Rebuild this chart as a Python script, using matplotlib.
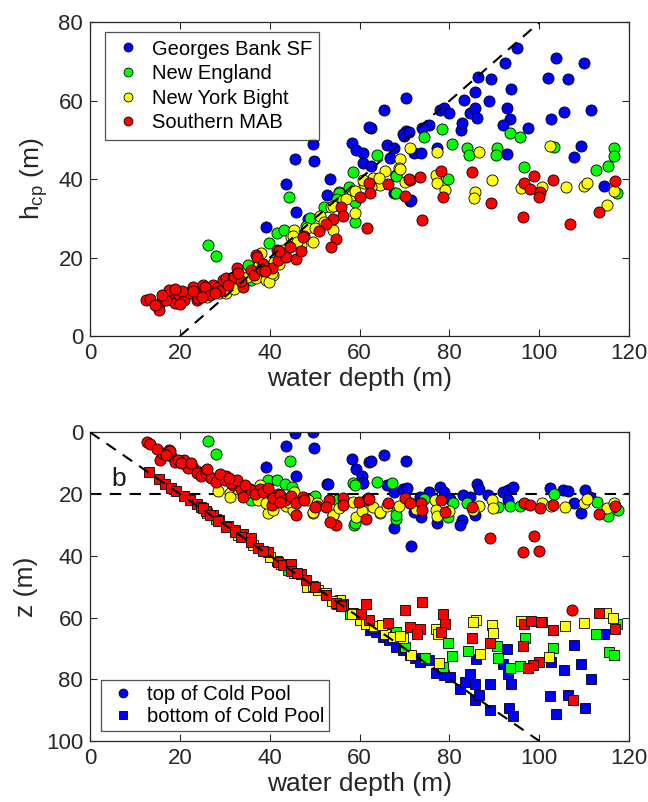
import matplotlib
matplotlib.use('Agg')
import matplotlib.pyplot as plt
from matplotlib.lines import Line2D

plt.rcParams['font.family'] = ['Liberation Sans', 'DejaVu Sans']
plt.rcParams['mathtext.fontset'] = 'custom'
plt.rcParams['mathtext.rm'] = 'Liberation Sans'
plt.rcParams['mathtext.it'] = 'Liberation Sans:italic'

# ---- top panel: cold pool thickness h_cp vs water depth ----
gb_depth = [95.1, 103.7, 109.9, 92.3, 102.0, 106.4, 89.2, 86.4, 93.7, 85.6, 83.2, 88.9, 70.3, 77.8,
            78.8, 79.9, 84.6, 85.7, 86.1, 92.9, 93.4, 102.5, 105.5, 111.4, 65.4, 62.5, 82.5, 82.7,
            70.4, 69.8, 75.4, 73.8, 92.0, 97.5, 66.0, 67.7, 60.8, 66.7, 72.0, 73.6, 77.2, 92.9,
            109.2, 107.7, 114.4, 60.8, 62.6, 71.3, 67.7, 49.6, 45.7, 49.8, 58.2, 59.3, 62.1, 53.3,
            43.7, 45.9, 52.8, 39.1, 48.5, 69.7, 71.0, 71.5]
gb_hcp = [73.5, 70.9, 69.6, 69.6, 65.8, 65.6, 65.6, 66.0, 63.1, 62.3, 60.2, 60.0, 60.6, 57.7,
          58.2, 57.0, 57.0, 58.2, 55.7, 58.2, 55.4, 55.4, 57.2, 57.7, 57.7, 53.2, 52.6, 54.3,
          52.4, 51.0, 53.8, 53.0, 53.9, 53.1, 48.7, 47.9, 46.6, 45.3, 46.6, 46.6, 47.9, 46.4,
          48.5, 45.7, 38.3, 44.1, 43.4, 34.4, 36.5, 49.0, 45.1, 44.7, 49.3, 47.4, 53.4, 40.0,
          38.8, 31.7, 36.1, 27.9, 29.8, 51.5, 52.1, 34.7]

ne_depth = [78.4, 74.4, 80.6, 83.9, 84.3, 90.6, 90.3, 93.4, 95.7, 96.5, 79.7, 68.2, 68.0, 63.9,
            103.2, 116.6, 116.6, 115.3, 112.7, 117.2, 58.5, 57.6, 55.3, 68.2, 58.9, 58.9, 44.3,
            41.6, 43.2, 26.2, 28.1, 39.8, 35.1, 35.9, 55.4, 52.0, 48.0, 49.0, 55.0]
ne_hcp = [52.7, 50.7, 49.0, 47.9, 46.2, 47.9, 46.2, 51.9, 50.8, 43.2, 40.0, 41.1, 36.4, 46.2,
          48.3, 47.9, 45.9, 43.4, 42.3, 36.4, 41.9, 38.1, 36.8, 40.8, 34.3, 29.2, 35.4,
          26.4, 27.0, 23.2, 20.4, 23.8, 18.1, 14.3, 36.4, 33.0, 28.0, 30.0, 35.0]

nyb_depth = [102.3, 71.2, 77.2, 68.9, 68.8, 86.6, 89.4, 76.9, 77.2, 78.9, 85.6, 85.4, 96.0, 100.7,
             105.9, 109.9, 110.5, 116.6, 115.0, 70.0, 63.0, 65.6, 64.5, 69.0, 64.3, 60.9, 62.6,
             58.4, 56.3, 58.9, 53.7, 51.1, 48.3, 45.3, 44.7, 49.6, 47.0, 38.1, 37.6, 36.9, 39.2,
             40.7, 45.2, 30.7, 31.1, 28.8, 39.8, 40.4, 54.1, 54.1, 60.8, 30.3, 34.0, 33.0, 42.0,
             46.0, 26.0, 32.0, 35.0, 41.0, 43.0, 50.0, 52.0, 57.0, 59.0]
nyb_hcp = [48.5, 47.9, 47.0, 45.1, 42.8, 47.0, 39.8, 41.1, 39.0, 37.2, 36.8, 35.1, 37.7, 38.1,
           38.1, 38.3, 39.0, 37.0, 33.4, 39.2, 40.2, 42.2, 38.5, 42.5, 40.2, 39.1, 38.1,
           36.0, 34.7, 31.5, 33.0, 30.6, 27.5, 27.0, 25.3, 24.1, 23.2, 21.1, 18.1, 14.7, 14.3,
           15.6, 25.5, 11.7, 13.4, 10.9, 13.9, 16.0, 27.0, 33.2, 39.8, 10.9, 14.0, 15.5, 18.5,
           24.0, 10.0, 12.0, 15.0, 19.0, 22.0, 27.5, 29.0, 35.0, 37.0]

smab_depth = [78.2, 85.1, 96.6, 98.8, 103.1, 97.9, 100.2, 99.9, 116.8, 113.3, 96.4, 89.2, 78.6, 71.2,
              73.4, 70.0, 66.3, 62.1, 62.2, 60.0, 73.8, 106.8, 61.6, 71.0, 55.9, 56.3, 54.1, 54.8,
              53.7, 52.6, 50.9, 47.6, 44.4, 41.5, 37.0, 12.5, 13.3, 15.3, 15.9, 17.7, 17.6, 18.8,
              19.9, 21.8, 22.9, 24.0, 25.1, 26.2, 27.3, 28.5, 29.6, 30.3, 31.8, 32.6, 34.0, 35.9,
              37.2, 40.4, 41.8, 43.7, 42.1, 21.0, 16.9, 23.7, 22.2, 24.0, 25.5, 32.0, 45.9, 46.9,
              47.4, 33.5, 38.5, 20.5, 26.8, 29.0, 14.5, 16.0, 19.0, 20.0, 23.0, 25.0, 27.8, 30.8,
              33.0, 36.5, 38.0, 39.0]
smab_hcp = [42.2, 41.9, 39.1, 40.8, 39.8, 37.4, 36.8, 35.4, 39.5, 31.6, 30.4, 33.9, 35.5, 39.8,
            40.6, 35.8, 38.7, 39.1, 36.4, 35.5, 29.6, 28.6, 27.6, 40.0, 32.8, 30.6, 29.8, 24.7,
            22.8, 28.7, 26.9, 25.5, 22.8, 21.9, 20.7, 9.2, 9.4, 6.6, 9.0, 10.0, 11.7, 8.5,
            10.5, 10.9, 12.4, 10.9, 13.0, 11.7, 13.0, 12.4, 14.3, 14.7, 15.0, 17.3, 12.6, 16.8,
            20.1, 17.3, 19.4, 20.2, 21.8, 9.2, 9.2, 9.2, 10.9, 9.6, 12.6, 15.1, 19.6, 21.8,
            25.3, 14.0, 18.5, 11.5, 10.5, 11.5, 8.0, 10.5, 12.0, 8.3, 11.5, 10.0, 11.0, 13.0,
            16.0, 15.5, 17.0, 16.5]

# ---- bottom panel: depth of top / bottom of the Cold Pool ----
gb_top_depth = [45.7, 49.6, 43.7, 49.8, 39.2, 45.9, 52.8, 58.3, 59.3, 60.6, 60.6, 62.1, 65.4, 62.6,
                70.3, 66.0, 67.7, 69.7, 70.6, 77.8, 78.7, 75.5, 73.4, 80.1, 83.0, 84.5, 86.1, 86.5,
                85.6, 82.7, 82.3, 77.2, 73.6, 72.1, 67.7, 71.4, 88.6, 91.9, 93.0, 94.2, 93.0, 102.3,
                105.3, 106.4, 110.1, 107.7, 109.2, 111.2, 53.0, 60.8]
gb_top_z = [0.3, 0.0, 4.6, 5.1, 11.3, 14.1, 16.7, 8.7, 11.9, 14.3, 16.5, 9.5, 7.3, 9.3,
            9.3, 17.0, 19.5, 18.4, 17.9, 17.6, 19.2, 19.5, 20.8, 21.7, 20.3, 20.8, 16.7, 18.4,
            26.8, 28.4, 30.0, 29.3, 27.3, 25.7, 31.1, 36.8, 20.3, 19.2, 18.7, 17.6, 21.9, 18.1,
            18.7, 18.9, 18.7, 22.8, 26.2, 21.0, 16.7, 16.3]
gb_bot_depth = [62.2, 65.1, 66.5, 68.2, 69.7, 71.2, 72.3, 73.4, 75.5, 77.1, 78.7, 80.1, 82.4, 83.4,
                85.6, 86.5, 89.1, 63.7, 86.0, 84.5, 85.6, 89.0, 93.6, 92.9, 93.0, 91.9, 93.2, 94.2,
                102.3, 106.4, 103.7, 110.1, 111.5, 109.2, 105.5, 102.6, 107.7, 114.4, 58.0, 60.0]
gb_bot_z = [64.1, 66.3, 67.4, 69.5, 70.6, 72.2, 73.0, 74.4, 73.9, 78.0, 78.5, 79.1, 83.1, 80.9,
            86.6, 85.0, 89.8, 64.7, 73.3, 78.2, 81.4, 81.4, 81.4, 70.1, 78.2, 74.9, 89.2, 92.0,
            85.3, 85.2, 91.3, 89.3, 79.8, 75.2, 77.1, 74.4, 69.0, 65.4, 58.5, 60.5]

ne_top_depth = [26.2, 28.0, 44.4, 39.6, 41.5, 43.3, 58.5, 58.7, 63.9, 68.2, 80.7, 79.7, 74.3, 90.8,
                93.4, 95.7, 103.2, 112.9, 115.3, 117.5, 116.4, 68.2, 83.8, 35.9, 45.0, 58.9, 58.9,
                67.3, 68.2, 50.0, 55.0]
ne_top_z = [2.7, 7.0, 9.2, 15.4, 15.4, 16.7, 16.5, 30.0, 16.0, 28.2, 22.8, 27.5, 21.7, 24.1,
            23.9, 23.9, 20.1, 22.5, 27.1, 25.2, 24.1, 24.6, 23.0, 21.9, 17.6, 29.5, 17.0,
            16.3, 26.8, 20.5, 22.0]
ne_bot_depth = [57.8, 68.2, 70.0, 74.5, 78.6, 79.7, 80.6, 84.1, 90.5, 90.8, 93.4, 95.7, 96.8, 103.1,
                112.7, 115.5, 116.6, 117.3, 55.0, 63.0, 26.0, 28.0, 44.0, 41.5]
ne_bot_z = [58.7, 64.7, 69.5, 73.0, 76.0, 68.2, 72.5, 70.9, 69.3, 73.0, 76.4, 75.7, 66.6, 69.9,
            65.4, 71.2, 72.2, 62.2, 55.5, 63.5, 26.3, 28.2, 44.5, 41.8]

nyb_top_depth = [31.1, 37.8, 39.6, 49.6, 54.1, 59.3, 45.2, 48.5, 64.5, 63.0, 68.8, 76.7, 77.1, 77.3,
                 86.6, 85.3, 89.5, 89.7, 100.7, 102.7, 105.8, 109.9, 110.5, 115.0, 116.6, 71.2,
                 31.1, 34.8, 37.6, 37.4, 40.7, 43.7, 45.5, 39.2, 45.2, 49.6, 54.1, 58.5, 64.5,
                 28.5, 33.0, 44.0, 50.5, 55.5, 60.5, 66.0, 72.5, 80.0]
nyb_top_z = [19.7, 17.0, 26.2, 26.2, 26.8, 27.3, 23.0, 21.9, 26.0, 24.1, 23.9, 21.9, 25.2, 27.1,
             23.9, 25.2, 21.9, 24.6, 23.0, 23.9, 24.3, 23.0, 21.7, 24.6, 22.8, 23.0,
             20.8, 19.7, 19.7, 21.9, 25.2, 23.9, 19.5, 23.0, 25.2, 25.7, 26.8, 22.5, 25.7,
             19.0, 18.5, 22.5, 23.0, 24.5, 25.5, 24.0, 25.0, 25.5]
nyb_bot_depth = [36.3, 40.0, 48.2, 49.6, 50.7, 55.6, 58.5, 60.0, 61.5, 63.0, 64.9, 65.6, 56.3, 60.0,
                 61.5, 63.2, 67.4, 69.7, 71.5, 77.1, 77.5, 77.7, 86.0, 85.3, 86.7, 89.4, 89.7, 95.9,
                 100.5, 105.8, 109.9, 102.2, 114.8, 116.4, 68.9, 64.9, 58.2, 30.5, 33.0, 42.5,
                 45.5, 52.5, 53.8]
nyb_bot_z = [36.5, 40.3, 50.0, 49.8, 51.1, 54.4, 58.5, 59.8, 61.4, 63.0, 62.5, 65.2, 55.5, 60.9,
             62.0, 62.7, 66.3, 66.5, 72.2, 63.6, 65.4, 74.7, 60.7, 61.4, 71.7, 62.3, 65.0, 61.2,
             61.5, 62.7, 61.7, 72.8, 58.4, 60.0, 66.1, 62.3, 58.7, 30.6, 33.2, 42.8,
             45.7, 52.0, 54.6]

smab_top_depth = [12.7, 13.4, 15.5, 17.6, 18.1, 19.0, 21.0, 21.6, 22.9, 23.7, 25.5, 26.6, 28.5, 30.3,
                  31.8, 33.7, 35.5, 34.0, 40.4, 41.8, 40.6, 45.9, 47.4, 50.4, 53.2, 54.7, 53.5, 56.3,
                  61.5, 15.9, 17.7, 19.6, 21.8, 23.7, 24.8, 25.9, 27.0, 28.1, 30.0, 31.4, 32.6, 35.9,
                  37.8, 40.7, 42.2, 43.3, 44.8, 45.9, 42.2, 47.6, 50.0, 52.6, 56.3, 59.9, 61.9, 61.5,
                  62.1, 66.3, 70.0, 71.2, 73.6, 73.8, 78.2, 79.0, 85.1, 96.6, 98.0, 100.1, 103.1,
                  113.3, 116.8, 89.1, 98.8, 96.4, 99.9, 107.3, 14.8, 16.8, 20.3, 22.5, 26.0, 29.0,
                  31.0, 34.5, 36.8, 38.6, 39.5]
smab_top_z = [3.3, 3.7, 8.9, 5.7, 7.8, 9.5, 8.9, 10.9, 11.6, 12.7, 12.7, 14.6, 15.4, 14.3,
              17.0, 18.4, 18.4, 21.0, 20.3, 20.0, 23.5, 26.8, 20.8, 23.9, 21.9, 30.0, 29.0, 21.4,
              21.9, 6.8, 6.2, 8.9, 11.6, 13.2, 14.3, 13.2, 14.9, 16.0, 15.6, 16.5, 15.4, 18.7,
              18.4, 21.4, 20.3, 21.9, 20.6, 22.8, 22.5, 21.9, 24.1, 24.1, 23.5, 22.5, 21.4, 28.2,
              21.7, 22.8, 21.4, 22.8, 22.8, 25.2, 21.9, 25.7, 24.3, 23.0, 23.5, 24.6, 23.5,
              26.6, 23.9, 34.4, 33.6, 38.7, 38.4, 57.6, 5.5, 7.3, 10.0, 9.8, 11.8, 13.5,
              14.8, 17.2, 20.0, 19.5, 18.0]
smab_bot_depth = [13.1, 15.3, 16.6, 18.1, 19.2, 21.0, 22.2, 23.7, 24.8, 25.9, 27.3, 28.8, 30.7, 32.2,
                  34.0, 35.9, 25.1, 26.6, 28.5, 30.3, 32.2, 33.7, 35.9, 37.4, 39.6, 41.8, 42.9, 44.8,
                  44.7, 47.0, 48.0, 52.6, 54.7, 56.2, 61.5, 66.3, 61.4, 73.8, 70.0, 78.6, 79.0, 78.2,
                  71.2, 73.4, 72.8, 62.1, 60.2, 55.9, 85.1, 89.1, 96.4, 96.6, 98.1, 100.3, 103.1,
                  113.3, 116.8, 100.0, 98.6, 97.5, 107.4, 38.5, 46.0, 50.0]
smab_bot_z = [13.0, 15.2, 16.7, 18.1, 18.9, 20.6, 21.9, 23.2, 24.3, 25.4, 26.8, 28.4, 30.4, 31.7,
              33.0, 34.4, 24.6, 26.8, 28.6, 30.6, 32.2, 33.8, 35.5, 37.6, 38.7, 41.9, 43.0, 42.5,
              44.9, 46.0, 47.7, 52.8, 55.3, 56.0, 55.5, 61.7, 55.7, 54.9, 57.6, 58.7, 62.2, 64.7,
              63.0, 63.8, 65.4, 60.9, 58.7, 56.3, 66.6, 68.4, 69.3, 62.2, 61.1, 61.5, 63.9,
              58.4, 63.8, 74.4, 75.5, 76.2, 86.6, 38.3, 45.5, 50.2]

region_names = ['Georges Bank SF', 'New England', 'New York Bight', 'Southern MAB']
region_colors = ['#0000ff', '#00ff00', '#ffff00', '#ff0000']

# reference lines
ref_top_depth = [20, 100]
ref_top_h = [0, 80]
ref_diag_depth = [0, 100]
ref_diag_z = [0, 100]
ref_b_depth = [0, 120]
ref_b_z = [20, 20]

fig = plt.figure(figsize=(6.48, 8.02), dpi=100)
ax1 = fig.add_axes([0.139, 0.581, 0.832, 0.391])
ax2 = fig.add_axes([0.139, 0.076, 0.832, 0.385])

ms_c = 8.0
ms_s = 7.2
edge = dict(markeredgecolor='k', markeredgewidth=0.6, linestyle='none')
dash = (0, (5.5, 4))

top_sets = [(gb_depth, gb_hcp), (ne_depth, ne_hcp), (nyb_depth, nyb_hcp), (smab_depth, smab_hcp)]
for (d, h), c, name in zip(top_sets, region_colors, region_names):
    ax1.plot(d, h, marker='o', markersize=ms_c, markerfacecolor=c, label=name, **edge)
ax1.plot(ref_top_depth, ref_top_h, color='k', linestyle=dash, linewidth=1.5, zorder=3)

bot_sets = [(gb_top_depth, gb_top_z, gb_bot_depth, gb_bot_z),
            (ne_top_depth, ne_top_z, ne_bot_depth, ne_bot_z),
            (nyb_top_depth, nyb_top_z, nyb_bot_depth, nyb_bot_z),
            (smab_top_depth, smab_top_z, smab_bot_depth, smab_bot_z)]
for (td, tz, bd, bz), c in zip(bot_sets, region_colors):
    ax2.plot(td, tz, marker='o', markersize=ms_c, markerfacecolor=c, **edge)
    ax2.plot(bd, bz, marker='s', markersize=ms_s, markerfacecolor=c, **edge)
ax2.plot(ref_diag_depth, ref_diag_z, color='k', linestyle=dash, linewidth=1.5, zorder=3)
ax2.plot(ref_b_depth, ref_b_z, color='k', linestyle=dash, linewidth=1.5, zorder=1)
ax2.text(6.4, 15, 'b', fontsize=19, ha='center', va='center', color='0.1')

for ax in (ax1, ax2):
    ax.set_xlim(0, 120)
    ax.set_xticks(range(0, 121, 20))
    ax.tick_params(direction='in', top=True, right=True, length=5, width=0.8,
                   labelsize=16, colors='0.15', pad=5)
    for s in ax.spines.values():
        s.set_linewidth(0.9)
        s.set_color('0.15')
    ax.set_xlabel('water depth (m)', fontsize=19, color='0.15', labelpad=2)

ax1.set_ylim(0, 80)
ax1.set_yticks(range(0, 81, 20))
ax1.set_ylabel(r'h$_{\mathrm{cp}}$ (m)', fontsize=19, color='0.15', labelpad=6)

ax2.set_ylim(100, 0)
ax2.set_yticks(range(0, 101, 20))
ax2.set_ylabel('z (m)', fontsize=19, color='0.15', labelpad=6)

leg1 = ax1.legend(loc='upper left', bbox_to_anchor=(0.027, 0.968), borderaxespad=0,
                  fontsize=14.5, frameon=True, fancybox=False, edgecolor='0.15',
                  handletextpad=0.4, labelspacing=0.28, borderpad=0.35, handlelength=1.6,
                  markerscale=0.8)
leg1.get_frame().set_linewidth(0.9)

handles2 = [Line2D([], [], marker='o', markersize=ms_c * 0.8, markerfacecolor='#0000ff', **edge),
            Line2D([], [], marker='s', markersize=ms_s * 0.8, markerfacecolor='#0000ff', **edge)]
leg2 = ax2.legend(handles2, ['top of Cold Pool', 'bottom of Cold Pool'], loc='lower left',
                  bbox_to_anchor=(0.021, 0.032), borderaxespad=0, fontsize=14.5, frameon=True,
                  fancybox=False, edgecolor='0.15', handletextpad=0.4, labelspacing=0.15,
                  borderpad=0.25, handlelength=1.6)
leg2.get_frame().set_linewidth(0.9)

fig.savefig('out.png', dpi=100)
